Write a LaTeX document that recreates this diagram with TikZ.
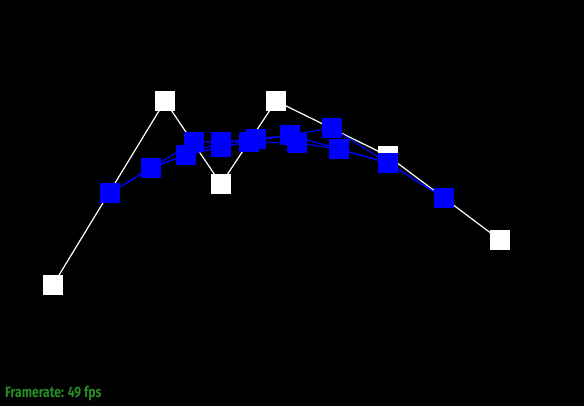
\documentclass[tikz,border=0pt]{standalone}
\usepackage{fontspec}
\usepackage{graphicx}
\setmainfont{Fira Sans}
\definecolor{fpsgreen}{RGB}{38,140,38}
\definecolor{ptblue}{RGB}{0,0,255}
\begin{document}
\begin{tikzpicture}[x=1pt,y=-1pt,
  ctrl/.style={fill=white,draw=none,minimum size=20pt,inner sep=0pt,outer sep=0pt},
  curvept/.style={fill=ptblue,draw=none,minimum size=20pt,inner sep=0pt,outer sep=0pt},
  ctrlline/.style={white,line width=1.2pt},
  curveline/.style={ptblue,line width=1.2pt}]
\fill[black] (0,0) rectangle (584,406);
\useasboundingbox (0,0) rectangle (584,406);
% control points
\coordinate (w1) at (53,285);
\coordinate (w2) at (165,101);
\coordinate (w3) at (221,184);
\coordinate (w4) at (276,101);
\coordinate (w5) at (388,156);
\coordinate (w6) at (500,240);
% curve points
\coordinate (b1) at (110,193);
\coordinate (b2) at (151,168);
\coordinate (b3) at (186,155);
\coordinate (b4) at (194,142);
\coordinate (b5) at (221,142);
\coordinate (b6) at (221,147);
\coordinate (b7) at (249,142);
\coordinate (b8) at (256,139);
\coordinate (b9) at (290,135);
\coordinate (b10) at (297,143);
\coordinate (b11) at (332,128);
\coordinate (b12) at (339,149);
\coordinate (b13) at (388,163);
\coordinate (b14) at (444,198);
\draw[ctrlline] (w1) -- (w2) -- (w3) -- (w4) -- (w5) -- (w6);
\foreach \n in {w1,w2,w3,w4,w5,w6} \node[ctrl] (n\n) at (\n) {};
\draw[curveline] (b1) -- (b2) -- (b4) -- (b5) -- (b8) -- (b9) -- (b11) -- (b13) -- (b14);
\draw[curveline] (b1) -- (b2) -- (b3) -- (b6) -- (b7) -- (b10) -- (b12) -- (b13) -- (b14);
\draw[curveline] (b2) -- (b3) -- (b5) -- (b7) -- (b9) -- (b12) -- (b13);
\foreach \n in {b1,b2,b3,b4,b5,b6,b7,b8,b9,b10,b11,b12,b13,b14} \node[curvept] (n\n) at (\n) {};
\node[anchor=base west,inner sep=0pt,text=fpsgreen,font=\bfseries\fontsize{15}{17}\selectfont] (fps) at (5,397) {\scalebox{0.81}[1]{Framerate: 49 fps}};
\end{tikzpicture}
\end{document}
